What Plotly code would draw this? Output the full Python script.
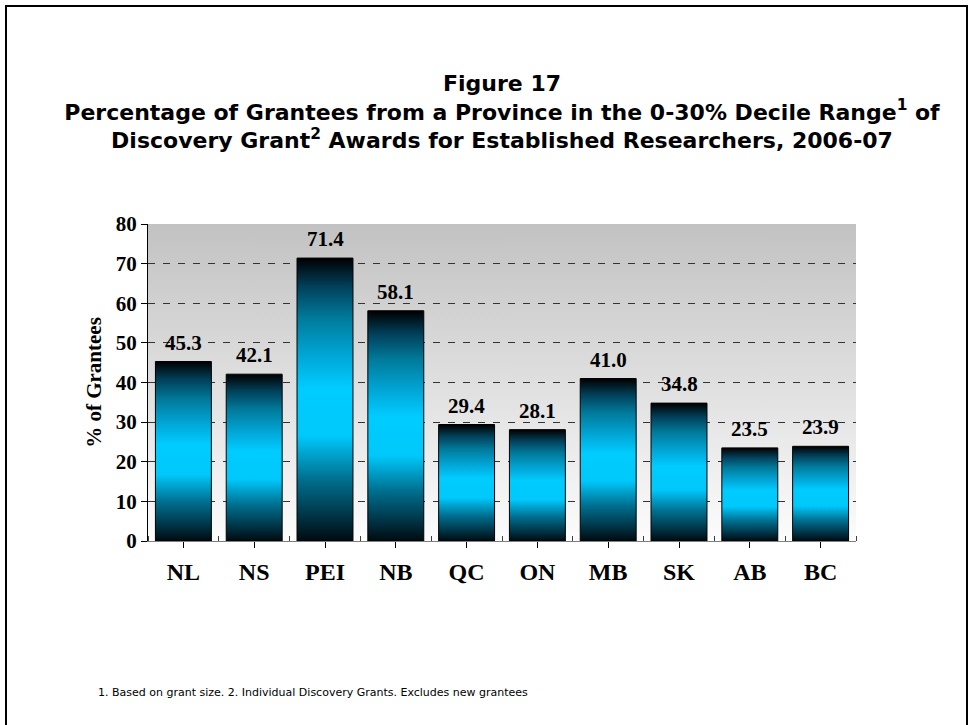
import base64

from plotly import graph_objects as go

provinces = ["NL", "NS", "PEI", "NB", "QC", "ON", "MB", "SK", "AB", "BC"]
pct_grantees = [45.3, 42.1, 71.4, 58.1, 29.4, 28.1, 41.0, 34.8, 23.5, 23.9]
y_ticks = [0, 10, 20, 30, 40, 50, 60, 70, 80]

title_text = (
    "Figure 17<br>"
    "Percentage of Grantees from a Province in the 0-30% Decile Range<sup>1</sup> of<br>"
    "Discovery Grant<sup>2</sup> Awards for Established Researchers, 2006-07"
)
footnote = "1. Based on grant size. 2. Individual Discovery Grants. Excludes new grantees"

SERIF = "Times New Roman, Liberation Serif, serif"
SANS = "DejaVu Sans, Arial, sans-serif"
BAR_WIDTH = 0.79

# plot area in pixels: x 148..856, y 224..541
PL, PR, PT, PB = 148, 856, 224, 541

bar_scale = [
    [0.0, "#000a0f"],
    [0.08, "#003040"],
    [0.22, "#007090"],
    [0.37, "#00c8fa"],
    [0.54, "#00ccff"],
    [0.65, "#00a8d8"],
    [0.79, "#007a9a"],
    [0.9, "#00405a"],
    [1.0, "#000000"],
]

bg_svg = (
    '<svg xmlns="http://www.w3.org/2000/svg" width="100" height="100" '
    'preserveAspectRatio="none"><defs><linearGradient id="g" x1="0" y1="0" '
    'x2="0" y2="1"><stop offset="0" stop-color="#c2c2c2"/>'
    '<stop offset="1" stop-color="#fcfcfc"/></linearGradient></defs>'
    '<rect width="100" height="100" fill="url(#g)"/></svg>'
)
bg_uri = "data:image/svg+xml;base64," + base64.b64encode(bg_svg.encode()).decode()


def px_x(px):
    return (px - PL) / (PR - PL)


def px_y(py):
    return (PB - py) / (PB - PT)


fig = go.Figure()

# bars drawn as filled outlines so they can carry a vertical gradient
for i, v in enumerate(pct_grantees):
    x0, x1 = i - BAR_WIDTH / 2, i + BAR_WIDTH / 2
    fig.add_trace(
        go.Scatter(
            x=[x0, x0, x1, x1, x0],
            y=[0, v, v, 0, 0],
            mode="lines",
            fill="toself",
            fillgradient=dict(type="vertical", colorscale=bar_scale),
            line=dict(color="#000000", width=1),
            hoverinfo="skip",
            showlegend=False,
        )
    )

value_labels = [
    dict(
        x=i,
        y=v,
        xref="x",
        yref="y",
        text=f"{v:.1f}",
        showarrow=False,
        yanchor="bottom",
        yshift=5,
        font=dict(family=SERIF, size=21, color="#000000", weight="bold"),
    )
    for i, v in enumerate(pct_grantees)
]

fig.update_layout(
    width=969,
    height=725,
    margin=dict(l=PL, r=969 - PR, t=PT, b=725 - PB),
    paper_bgcolor="#ffffff",
    plot_bgcolor="rgba(0,0,0,0)",
    showlegend=False,
    title=dict(
        text=title_text,
        x=0.5,
        xref="paper",
        xanchor="center",
        y=1 - 91 / 725,
        yanchor="middle",
        font=dict(family=SANS, size=22, color="#000000", weight="bold"),
    ),
    images=[
        dict(
            source=bg_uri,
            xref="x domain",
            yref="y domain",
            x=0,
            y=1,
            sizex=1,
            sizey=1,
            xanchor="left",
            yanchor="top",
            sizing="stretch",
            layer="below",
        )
    ],
    xaxis=dict(
        range=[-0.5, len(provinces) - 0.5],
        tickmode="array",
        tickvals=list(range(len(provinces))),
        ticktext=provinces,
        ticks="outside",
        ticklen=6,
        tickcolor="#000000",
        showgrid=False,
        zeroline=False,
        showline=True,
        linecolor="#808080",
        linewidth=1,
        tickfont=dict(family=SERIF, size=24, color="#000000", weight="bold"),
        ticklabelstandoff=3,
        minor=dict(
            tickmode="linear",
            tick0=-0.5,
            dtick=1,
            ticks="inside",
            ticklen=5,
            tickcolor="#404040",
        ),
    ),
    yaxis=dict(
        range=[0, 80],
        tickmode="array",
        tickvals=y_ticks,
        ticks="outside",
        ticklen=6,
        tickcolor="#000000",
        showgrid=True,
        gridcolor="#333333",
        gridwidth=1,
        griddash="7px,8px",
        zeroline=False,
        showline=True,
        linecolor="#000000",
        linewidth=1,
        tickfont=dict(family=SERIF, size=21, color="#000000", weight="bold"),
        title=dict(
            text="% of Grantees",
            font=dict(family=SERIF, size=21, color="#000000", weight="bold"),
            standoff=8,
        ),
    ),
    shapes=[
        dict(
            type="rect",
            xref="paper",
            yref="paper",
            x0=px_x(6),
            x1=px_x(967),
            y0=px_y(740),
            y1=px_y(6),
            line=dict(color="#000000", width=2),
            fillcolor="rgba(0,0,0,0)",
            layer="above",
        )
    ],
    annotations=value_labels
    + [
        dict(
            text=footnote,
            xref="paper",
            yref="paper",
            x=px_x(96),
            y=px_y(692),
            xanchor="left",
            yanchor="middle",
            showarrow=False,
            font=dict(family=SANS, size=11, color="#000000"),
        )
    ],
)

fig.write_html(
    "out.html",
    config={"displayModeBar": False},
    post_script="document.body.style.margin = '0';",
)
